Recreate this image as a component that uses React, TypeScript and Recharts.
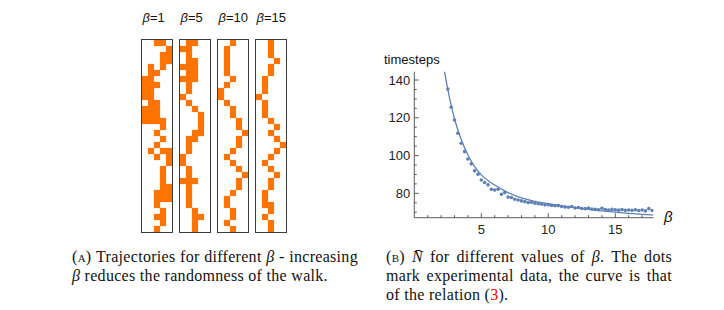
import React from 'react';
import { ScatterChart, Scatter, ComposedChart, Line, XAxis, YAxis } from 'recharts';

const ORANGE = '#FF7300';
const BLUE = '#5E81B5';
const AXIS = '#333';

// panel titles
const betaValues = ['1', '5', '10', '15'];

// random-walk trajectories, one string per time row, '#' = visited cell (5 columns)
const walkBeta1 = [
  '..##.', '....#', '...##', '...##', '.#.#.', '.##..', '##...', '###..',
  '##...', '##...', '.##..', '###..', '###..', '####.', '...#.', '..#..',
  '...#.', '..#..', '.#.##', '..#.#', '....#', '...#.', '...#.', '...#.',
  '...##', '..###', '..###', '..#..', '...#.', '..##.', '...#.', '..#..',
];
const walkBeta5 = [
  '.##..', '##...', '.#...', '.##..', '###..', '.##..', '###..', '.#...',
  '.#...', '#....', '.#...', '..#..', '...#.', '...#.', '...#.', '..##.',
  '.##..', '.#...', '.#...', '#....', '#....', '.#...', '.#...', '###..',
  '.#...', '.#...', '.#...', '.#...', '..#..', '..##.', '..#..', '..#..',
];
const walkBeta10 = [
  '..#..', '.#...', '.#...', '.#...', '.#...', '.#...', '..#..', '.#...',
  '#....', '#....', '.#...', '..#..', '..#..', '...#.', '...#.', '....#',
  '...#.', '...#.', '..#..', '.#...', '..#..', '...#.', '....#', '...#.',
  '...#.', '..#..', '.#...', '.#...', '..#..', '..#..', '.#...', '..#..',
];
const walkBeta15 = [
  '..#..', '..#..', '..#..', '...#.', '..#..', '..#..', '.#...', '.#...',
  '.#...', '#....', '.#...', '.#...', '.#...', '..#..', '...#.', '..#..',
  '...#.', '....#', '...#.', '..#..', '.#...', '..#..', '...#.', '..#..',
  '..#..', '.#...', '.#...', '.##..', '..#..', '.#...', '..#..', '..#..',
];
const walks = [walkBeta1, walkBeta5, walkBeta10, walkBeta15];
const walkLefts = [141, 179, 217, 255];

// experimental data: beta and mean timesteps
const dotBeta = [
  2.5, 2.75, 3, 3.25, 3.5, 3.75, 4, 4.25, 4.5, 4.75, 5, 5.25, 5.5, 5.75, 6, 6.25,
  6.5, 6.75, 7, 7.25, 7.5, 7.75, 8, 8.25, 8.5, 8.75, 9, 9.25, 9.5, 9.75, 10, 10.25,
  10.5, 10.75, 11, 11.25, 11.5, 11.75, 12, 12.25, 12.5, 12.75, 13, 13.25, 13.5, 13.75,
  14, 14.25, 14.5, 14.75, 15, 15.25, 15.5, 15.75, 16, 16.25, 16.5, 16.75, 17, 17.25,
  17.5, 17.75,
];
const dotSteps = [
  135.2, 125.6, 118.8, 111.8, 106.5, 102.1, 98.2, 95.6, 91.9, 90.1, 87.1, 85.7, 84.5, 82.2, 81.8, 82.2,
  79.5, 80.4, 78.0, 77.8, 76.9, 76.5, 76.0, 75.6, 75.1, 75.3, 74.8, 74.5, 74.3, 73.9, 74.0, 73.6,
  73.4, 73.5, 73.0, 72.8, 72.6, 73.0, 72.2, 72.5, 72.0, 71.9, 72.2, 71.7, 71.5, 71.3,
  72.1, 71.4, 71.2, 71.5, 71.3, 71.1, 71.4, 71.0, 71.2, 71.0, 71.3, 70.9, 71.2, 70.7,
  71.9, 70.9,
];

// theoretical curve, relation (3)
const curveBeta = [2.2, 2.5, 3, 3.5, 4, 4.5, 5, 6, 7, 8, 9, 10, 11, 12, 13, 14, 15, 16, 17, 17.85];
const curveSteps = [146.6, 135.1, 119.5, 108.5, 100.3, 94.2, 89.8, 84.4, 80.4, 77.6, 75.8, 74.5, 73.4, 72.4, 71.5, 70.7, 70.0, 69.4, 68.9, 68.5];

const xTicks = [1, 2, 3, 4, 5, 6, 7, 8, 9, 10, 11, 12, 13, 14, 15, 16, 17];
const xLabelTicks = [5, 10, 15];
const yTicks = [70, 75, 80, 85, 90, 95, 100, 105, 110, 115, 120, 125, 130, 135, 140];
const yLabelTicks = [80, 100, 120, 140];

const dotData = dotBeta.map((b, i) => ({ b, n: dotSteps[i] }));
const curveData = curveBeta.map((b, i) => ({ b, n: curveSteps[i] }));

const sans = '"Liberation Sans", Arial, sans-serif';
const serif = '"Liberation Serif", "Times New Roman", serif';

const cellShape = (p: any) => (
  <rect x={p.cx - 3.1} y={p.cy - 3.1} width={6.2} height={6.2} fill={ORANGE} />
);

const Walk = ({ rows, left }: { rows: string[]; left: number }) => {
  const cells: { x: number; y: number }[] = [];
  rows.forEach((r, row) =>
    r.split('').forEach((c, col) => {
      if (c === '#') cells.push({ x: col + 0.5, y: row + 0.5 });
    })
  );
  return (
    <div style={{ position: 'absolute', left, top: 39, width: 30, height: 192, border: '1px solid #3c3c3c' }}>
      <ScatterChart width={30} height={192} margin={{ top: 0, right: 0, bottom: 0, left: 0 }}>
        <XAxis type="number" dataKey="x" domain={[0, 5]} hide />
        <YAxis type="number" dataKey="y" domain={[0, 32]} reversed hide />
        <Scatter data={cells} shape={cellShape} isAnimationActive={false} />
      </ScatterChart>
    </div>
  );
};

const XTick = (props: any) => {
  const { x, y, payload } = props;
  const major = xLabelTicks.includes(payload.value);
  return (
    <g>
      <line x1={x} x2={x} y1={y} y2={y - (major ? 4.5 : 2.5)} stroke={AXIS} strokeWidth={0.8} />
      {major && (
        <text x={x} y={y + 16} textAnchor="middle" fontSize={13} fontFamily={sans} fill="#222">
          {payload.value}
        </text>
      )}
    </g>
  );
};

const YTick = (props: any) => {
  const { x, y, payload } = props;
  const major = yLabelTicks.includes(payload.value);
  return (
    <g>
      <line x1={x} x2={x + (major ? 4.5 : 2.5)} y1={y} y2={y} stroke={AXIS} strokeWidth={0.8} />
      {major && (
        <text x={x - 4} y={y + 4.6} textAnchor="end" fontSize={13} fontFamily={sans} fill="#222">
          {payload.value}
        </text>
      )}
    </g>
  );
};

const dotShape = (p: any) => <circle cx={p.cx} cy={p.cy} r={1.8} fill={BLUE} />;

const capText: React.CSSProperties = {
  fontFamily: serif,
  fontSize: 16,
  lineHeight: '19px',
  letterSpacing: 0.3,
  color: '#111',
  whiteSpace: 'nowrap',
};

// justified caption line: words spread over the full width
const FullLine = ({ left, top, words }: { left: number; top: number; words: React.ReactNode[] }) => (
  <div style={{ ...capText, position: 'absolute', left, top, width: 286, display: 'flex', justifyContent: 'space-between' }}>
    {words.map((w, i) => (
      <span key={i}>{w}</span>
    ))}
  </div>
);

const LastLine = ({ left, top, children }: { left: number; top: number; children: React.ReactNode }) => (
  <div style={{ ...capText, position: 'absolute', left, top }}>{children}</div>
);

const sc = (t: string) => <span style={{ fontVariant: 'small-caps' }}>{t}</span>;

export default function App() {
  return (
    <div style={{ position: 'absolute', left: 0, top: 0, width: 724, height: 310, background: '#fff' }}>
      {betaValues.map((v, i) => (
        <div
          key={v}
          style={{ position: 'absolute', left: walkLefts[i] + 1.5, top: 10, fontFamily: sans, fontSize: 13, lineHeight: '16px', color: '#111' }}
        >
          <i>β</i>={v}
        </div>
      ))}
      {walks.map((w, i) => (
        <Walk key={i} rows={w} left={walkLefts[i]} />
      ))}

      <div style={{ position: 'absolute', left: 384, top: 52, fontFamily: sans, fontSize: 13, lineHeight: '16px', color: '#111' }}>
        timesteps
      </div>
      <div style={{ position: 'absolute', left: 350, top: 50 }}>
        <ComposedChart width={330} height={200} margin={{ top: 21.7, right: 26.5, bottom: 2.3, left: 0 }}>
          <XAxis
            type="number"
            dataKey="b"
            domain={[0, 17.85]}
            ticks={xTicks}
            interval={0}
            tickSize={0}
            tickMargin={0}
            tickLine={false}
            tick={<XTick />}
            height={30}
            allowDataOverflow
            axisLine={{ stroke: AXIS, strokeWidth: 0.8 }}
          />
          <YAxis
            type="number"
            dataKey="n"
            domain={[67.1, 144.4]}
            ticks={yTicks}
            interval={0}
            tickSize={0}
            tickMargin={0}
            tickLine={false}
            tick={<YTick />}
            width={64.3}
            allowDataOverflow
            axisLine={{ stroke: AXIS, strokeWidth: 0.8 }}
          />
          <Line
            data={curveData}
            dataKey="n"
            type="monotone"
            stroke={BLUE}
            strokeWidth={1.3}
            dot={false}
            isAnimationActive={false}
          />
          <Scatter data={dotData} dataKey="n" shape={dotShape} isAnimationActive={false} />
        </ComposedChart>
      </div>
      <div style={{ position: 'absolute', left: 664, top: 208, fontFamily: sans, fontSize: 15, fontStyle: 'italic', color: '#111' }}>
        β
      </div>

      <FullLine
        left={72}
        top={247.3}
        words={[sc('(a)'), 'Trajectories', 'for', 'different', <i>β</i>, '-', 'increasing']}
      />
      <LastLine left={72} top={266}>
        <i>β</i> reduces the randomness of the walk.
      </LastLine>

      <FullLine
        left={386}
        top={247.3}
        words={[sc('(b)'), <i>N̄</i>, 'for', 'different', 'values', 'of', <><i>β</i>.</>, 'The', 'dots']}
      />
      <FullLine
        left={386}
        top={266}
        words={['mark', 'experimental', 'data,', 'the', 'curve', 'is', 'that']}
      />
      <LastLine left={386} top={284.7}>
        of the relation (<span style={{ color: '#f00' }}>3</span>).
      </LastLine>
    </div>
  );
}
